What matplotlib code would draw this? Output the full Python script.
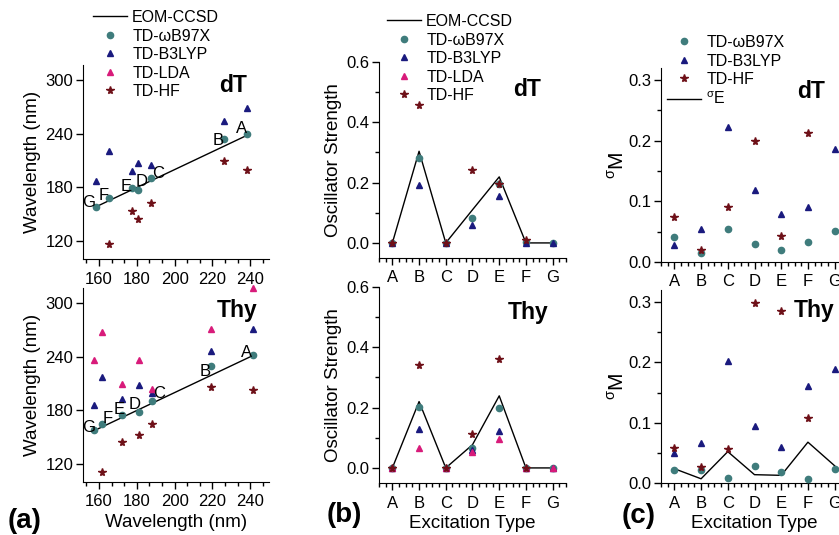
import numpy as np
import matplotlib
matplotlib.use("Agg")
import matplotlib.pyplot as plt
from matplotlib.lines import Line2D
from matplotlib.ticker import AutoMinorLocator, MultipleLocator

plt.rcParams['font.family'] = ['Liberation Sans', 'DejaVu Sans']
plt.rcParams['mathtext.fontset'] = 'custom'
plt.rcParams['mathtext.rm'] = 'Liberation Sans'

nan = np.nan
cats = ['A', 'B', 'C', 'D', 'E', 'F', 'G']

# Panel (a): wavelengths (nm), order A..G
dT_eom = [238.6, 226.2, 187.4, 180.4, 177.7, 165.3, 158.2]
dT_wb97x = [240.0, 234.4, 190.5, 177.0, 179.3, 168.0, 158.6]
dT_b3lyp = [269.3, 254.3, 205.5, 207.4, 198.0, 220.5, 186.7]
dT_hf = [199.9, 209.3, 163.1, 144.4, 153.8, 116.3, nan]

thy_eom = [241.4, 219.1, 187.8, 181.1, 172.4, 161.8, 157.3]
thy_wb97x = [242.4, 229.3, 190.7, 178.7, 175.0, 164.5, 158.2]
thy_b3lyp = [271.2, 246.9, 200.1, 208.7, 192.6, 216.9, 185.9]
thy_lda = [317.2, 271.2, 203.8, 236.4, 209.4, 268.2, 236.8]
thy_hf = [202.7, 206.8, 165.3, 152.5, 144.7, 111.4, nan]

# Panel (b): oscillator strengths
dT_f_eom = [0.0, 0.304, 0.0, 0.110, 0.219, 0.0, 0.0]
dT_f_wb97x = [0.0, 0.282, 0.0, 0.083, 0.196, 0.002, 0.0]
dT_f_b3lyp = [0.0, 0.191, 0.0, 0.061, 0.155, 0.0, 0.0]
dT_f_hf = [0.0, 0.459, 0.0, 0.243, 0.196, 0.009, nan]

thy_f_eom = [0.0, 0.220, 0.0, 0.077, 0.239, 0.0, 0.0]
thy_f_wb97x = [0.0, 0.2015, 0.0, 0.065, 0.198, 0.0, 0.0]
thy_f_b3lyp = [0.0, 0.129, 0.0, 0.058, 0.124, 0.0, 0.0]
thy_f_lda = [0.0, 0.067, 0.0, 0.052, 0.097, 0.0, 0.0]
thy_f_hf = [0.0, 0.341, 0.0, 0.112, 0.361, 0.0, nan]

# Panel (c): sigma_M
dT_s_wb97x = [0.041, 0.015, 0.054, 0.030, 0.020, 0.033, 0.051]
dT_s_b3lyp = [0.0275, 0.055, 0.222, 0.119, 0.079, 0.090, 0.187]
dT_s_hf = [0.075, 0.020, 0.090, 0.200, 0.043, 0.212, nan]

thy_s_wb97x = [0.022, 0.022, 0.009, 0.0275, 0.0176, 0.0066, 0.023]
thy_s_b3lyp = [0.0495, 0.066, 0.202, 0.095, 0.0605, 0.161, 0.189]
thy_s_hf = [0.058, 0.0264, 0.0567, 0.298, 0.2846, 0.108, nan]
thy_sigmaE = [0.0237, 0.007, 0.052, 0.0138, 0.0127, 0.0677, 0.0286]

# letter label offsets (pixels) for panel (a)
dT_lab_off = [(-6, 5), (-6, -2), (7, 5), (4, 9), (-6, 2), (-5, 3), (-7, 4)]
thy_lab_off = [(-6, 2), (-5, -5), (8, 7), (-4, 7), (-3, 5), (5, 6), (-5, 2)]

C_WB = '#3f7c7c'
C_B3 = '#1a1a7e'
C_LDA = '#d81b7a'
C_HF = '#6e1018'

W, H = 839, 535
fig = plt.figure(figsize=(W / 100, H / 100), dpi=100)


def add_ax(l, r, t, b):
    return fig.add_axes([l / W, 1 - b / H, (r - l) / W, (b - t) / H])


def style(ax):
    for s in ['top', 'right']:
        ax.spines[s].set_visible(False)
    ax.tick_params(which='major', direction='out', length=5, width=1, labelsize=12, pad=2)
    ax.tick_params(which='minor', direction='out', length=3, width=1)


MS = dict(o=4.5, t=5.0, s=5.8)


def scat(ax, x, y, kind, color):
    if kind == 'o':
        ax.plot(x, y, 'o', ms=MS['o'], color=color, ls='none', clip_on=False, zorder=3)
    elif kind == '^':
        ax.plot(x, y, '^', ms=MS['t'], color=color, ls='none', clip_on=False, zorder=3)
    else:
        ax.plot(x, y, '*', ms=MS['s'], color=color, ls='none', clip_on=False, zorder=4)


# ---------- Panel (a) ----------
axes_a = [add_ax(83, 269, 65, 259), add_ax(83, 269, 288, 482)]
sets_a = [
    (dT_eom, dT_wb97x, dT_b3lyp, None, dT_hf, dT_lab_off),
    (thy_eom, thy_wb97x, thy_b3lyp, thy_lda, thy_hf, thy_lab_off),
]
for ax, (eom, wb, b3, lda, hf, offs) in zip(axes_a, sets_a):
    style(ax)
    ax.plot(eom, eom, '-', color='black', lw=1, zorder=2)
    scat(ax, eom, wb, 'o', C_WB)
    scat(ax, eom, b3, '^', C_B3)
    if lda is not None:
        scat(ax, eom, lda, '^', C_LDA)
    scat(ax, eom, hf, '*', C_HF)
    for i, c in enumerate(cats):
        ax.annotate(c, (eom[i], wb[i]), xytext=offs[i], textcoords='offset pixels',
                    ha='center', va='center', fontsize=12)
    ax.set_xlim(151.5, 250)
    ax.set_ylim(100, 317)
    ax.xaxis.set_major_locator(MultipleLocator(20))
    ax.xaxis.set_minor_locator(AutoMinorLocator(3))
    ax.yaxis.set_major_locator(MultipleLocator(60))
    ax.set_ylabel('Wavelength (nm)', fontsize=13.5, labelpad=3)
    ax.tick_params(axis='x', pad=4)
axes_a[1].set_xlabel('Wavelength (nm)', fontsize=13.5, labelpad=3)

# ---------- Panel (b) ----------
xi = np.arange(len(cats))
axes_b = [add_ax(379, 566, 62, 258), add_ax(379, 566, 287, 483)]
sets_b = [
    (dT_f_eom, dT_f_wb97x, dT_f_b3lyp, None, dT_f_hf),
    (thy_f_eom, thy_f_wb97x, thy_f_b3lyp, thy_f_lda, thy_f_hf),
]
for ax, (eom, wb, b3, lda, hf) in zip(axes_b, sets_b):
    style(ax)
    ax.plot(xi, eom, '-', color='black', lw=1, zorder=2)
    scat(ax, xi, wb, 'o', C_WB)
    scat(ax, xi, b3, '^', C_B3)
    if lda is not None:
        scat(ax, xi, lda, '^', C_LDA)
    scat(ax, xi, hf, '*', C_HF)
    ax.set_xlim(-0.5, 6.5)
    ax.set_ylim(-0.05, 0.6)
    ax.set_xticks(xi)
    ax.set_xticklabels(cats)
    ax.xaxis.set_minor_locator(MultipleLocator(0.25))
    ax.yaxis.set_major_locator(MultipleLocator(0.2))
    ax.yaxis.set_minor_locator(MultipleLocator(0.1))
    ax.set_ylabel('Oscillator Strength', fontsize=13.5, labelpad=3)
    ax.tick_params(axis='x', pad=4)
axes_b[1].set_xlabel('Excitation Type', fontsize=13.5, labelpad=3)

# ---------- Panel (c) ----------
axes_c = [add_ax(661, 848, 68, 262), add_ax(661, 848, 290, 483)]
sets_c = [
    (dT_s_wb97x, dT_s_b3lyp, dT_s_hf, None),
    (thy_s_wb97x, thy_s_b3lyp, thy_s_hf, thy_sigmaE),
]
for ax, (wb, b3, hf, se) in zip(axes_c, sets_c):
    style(ax)
    if se is not None:
        ax.plot(xi, se, '-', color='black', lw=1, zorder=2)
    scat(ax, xi, wb, 'o', C_WB)
    scat(ax, xi, b3, '^', C_B3)
    scat(ax, xi, hf, '*', C_HF)
    ax.set_xlim(-0.5, 6.5)
    ax.set_ylim(0, 0.32)
    ax.set_xticks(xi)
    ax.set_xticklabels(cats)
    ax.xaxis.set_minor_locator(MultipleLocator(0.25))
    ax.yaxis.set_major_locator(MultipleLocator(0.1))
    ax.yaxis.set_minor_locator(MultipleLocator(0.05))
    ax.set_ylabel(r'${}^{\mathregular{σ}}$M', fontsize=15, labelpad=0)
    ax.tick_params(axis='x', pad=4)
axes_c[1].set_xlabel('Excitation Type', fontsize=13.5, labelpad=3)

# ---------- Titles inside panels ----------
for (x, y, s) in [(233, 85, 'dT'), (237, 310, 'Thy'), (527, 89, 'dT'), (528, 312, 'Thy'),
                  (811, 91, 'dT'), (814, 310, 'Thy')]:
    fig.text(x / W, 1 - y / H, s, fontsize=16.5, fontweight='bold', ha='center', va='center')

for (x, y, s) in [(25, 521, '(a)'), (344, 515, '(b)'), (639, 516, '(c)')]:
    fig.text(x / W, 1 - y / H, s, fontsize=20, fontweight='bold', ha='center', va='center')

# ---------- Legends ----------
h_eom = Line2D([], [], color='black', lw=1)
h_wb = Line2D([], [], marker='o', ms=MS['o'], color=C_WB, ls='none')
h_b3 = Line2D([], [], marker='^', ms=MS['t'], color=C_B3, ls='none')
h_lda = Line2D([], [], marker='^', ms=MS['t'], color=C_LDA, ls='none')
h_hf = Line2D([], [], marker='*', ms=MS['s'], color=C_HF, ls='none')

leg_kw = dict(frameon=False, fontsize=11.5, handlelength=2.1, handletextpad=0.35,
              labelspacing=0.22, borderpad=0, borderaxespad=0, loc='upper left', numpoints=1)
labels5 = ['EOM-CCSD', 'TD-ωB97X', 'TD-B3LYP', 'TD-LDA', 'TD-HF']
fig.legend([h_eom, h_wb, h_b3, h_lda, h_hf], labels5,
           bbox_to_anchor=(93 / W, 1 - 10 / H), **leg_kw)
fig.legend([h_eom, h_wb, h_b3, h_lda, h_hf], labels5,
           bbox_to_anchor=(387 / W, 1 - 14 / H), **leg_kw)
fig.legend([h_wb, h_b3, h_hf, h_eom],
           ['TD-ωB97X', 'TD-B3LYP', 'TD-HF', r'${}^{\mathregular{σ}}$E'],
           bbox_to_anchor=(667 / W, 1 - 35 / H), **leg_kw)

fig.savefig('out.png', dpi=100)
